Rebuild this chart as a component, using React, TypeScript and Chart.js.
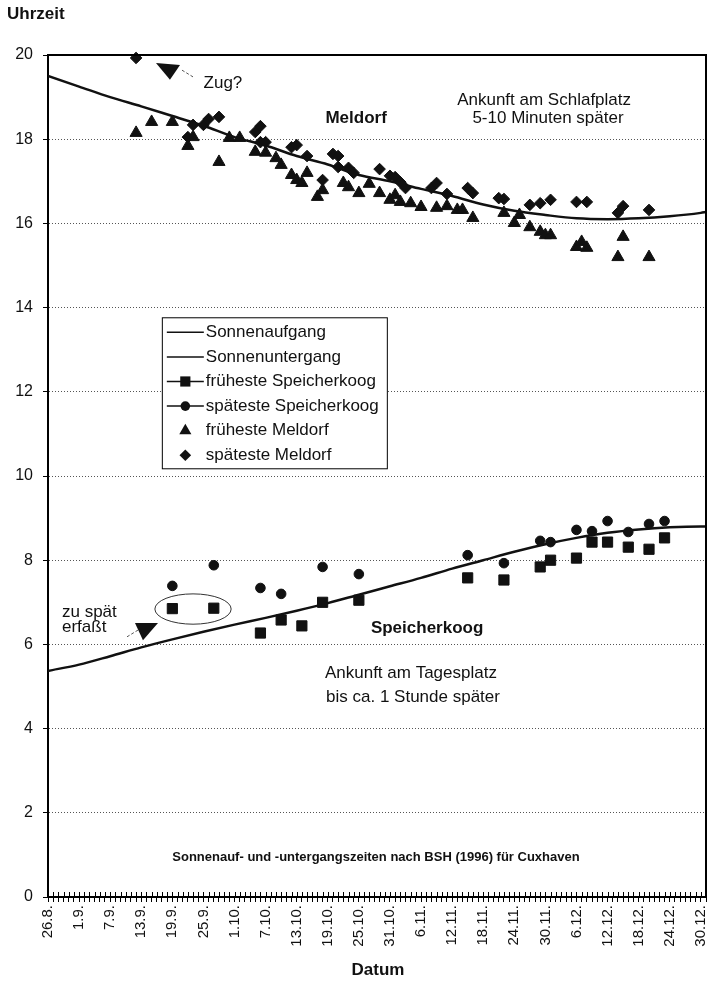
import React, { useEffect, useRef } from 'react';
import { Chart, registerables } from 'chart.js';

Chart.register(...registerables);

// x values are days counted from 26.8. (axis runs to 31.12. = day 127)
const dateLabels = ['26.8.', '1.9.', '7.9.', '13.9.', '19.9.', '25.9.', '1.10.', '7.10.', '13.10.', '19.10.', '25.10.', '31.10.', '6.11.', '12.11.', '18.11.', '24.11.', '30.11.', '6.12.', '12.12.', '18.12.', '24.12.', '30.12.'];
const curveDays = [0, 6, 12, 18, 24, 30, 36, 42, 48, 54, 60, 66, 72, 78, 84, 90, 96, 102, 108, 114, 120, 126, 127];
const sunrise = [5.37, 5.52, 5.72, 5.93, 6.12, 6.3, 6.47, 6.63, 6.8, 6.98, 7.18, 7.38, 7.58, 7.8, 8.0, 8.2, 8.38, 8.53, 8.65, 8.73, 8.78, 8.8, 8.8];
const sunset = [19.5, 19.25, 19.0, 18.78, 18.55, 18.32, 18.05, 17.85, 17.6, 17.4, 17.15, 17.0, 16.82, 16.65, 16.45, 16.3, 16.2, 16.12, 16.1, 16.12, 16.17, 16.25, 16.27];

const earlySpkDays = [24, 32, 41, 45, 49, 53, 60, 81, 88, 95, 97, 102, 105, 108, 112, 116, 119];
const earlySpk = [6.85, 6.86, 6.27, 6.58, 6.44, 7.0, 7.05, 7.58, 7.53, 7.84, 8.0, 8.05, 8.43, 8.43, 8.31, 8.26, 8.53];
const lateSpkDays = [24, 32, 41, 45, 53, 60, 81, 88, 95, 97, 102, 105, 108, 112, 116, 119];
const lateSpk = [7.39, 7.88, 7.34, 7.2, 7.84, 7.67, 8.12, 7.93, 8.46, 8.43, 8.72, 8.69, 8.93, 8.67, 8.86, 8.93];

const earlyMelDays = [17, 20, 24, 27, 28, 33, 35, 37, 40, 42, 44, 45, 47, 48, 49, 50, 52, 53, 57, 58, 60, 62, 64, 66, 67, 68, 70, 72, 75, 77, 79, 80, 82, 88, 90, 91, 93, 95, 96, 97, 102, 103, 104, 110, 111, 116];
const earlyMel = [18.15, 18.41, 18.41, 17.84, 18.05, 17.46, 18.03, 18.03, 17.7, 17.68, 17.55, 17.39, 17.15, 17.03, 16.96, 17.2, 16.63, 16.79, 16.96, 16.86, 16.72, 16.94, 16.72, 16.56, 16.67, 16.51, 16.48, 16.39, 16.37, 16.41, 16.32, 16.32, 16.13, 16.25, 16.01, 16.2, 15.91, 15.8, 15.72, 15.72, 15.44, 15.56, 15.42, 15.2, 15.68, 15.2];
const lateMelDays = [17, 27, 28, 30, 31, 33, 40, 41, 41, 42, 47, 48, 50, 53, 55, 56, 56, 58, 59, 64, 66, 67, 68, 69, 74, 75, 77, 81, 82, 87, 88, 93, 95, 97, 102, 104, 110, 111, 116];
const lateMel = [19.93, 18.05, 18.34, 18.34, 18.48, 18.53, 18.17, 18.31, 17.93, 17.93, 17.81, 17.86, 17.6, 17.03, 17.65, 17.6, 17.34, 17.32, 17.2, 17.29, 17.13, 17.1, 16.98, 16.84, 16.84, 16.96, 16.7, 16.84, 16.72, 16.6, 16.58, 16.44, 16.48, 16.56, 16.51, 16.51, 16.25, 16.41, 16.32];

const FONT = '"Liberation Sans", Arial, Helvetica, sans-serif';
const INK = '#111';

const toXY = (xs: number[], ys: number[]) => xs.map((d, i) => ({ x: d, y: ys[i] }));

type Note = { text: string; d: number; v: number; size: number; bold?: boolean; align?: CanvasTextAlign };
const notes: Note[] = [
  { text: 'Zug?', d: 33.76, v: 19.33, size: 17 },
  { text: 'Meldorf', d: 59.47, v: 18.5, size: 17, bold: true },
  { text: 'Ankunft am Schlafplatz', d: 95.75, v: 18.93, size: 17 },
  { text: '5-10 Minuten später', d: 96.5, v: 18.5, size: 17 },
  { text: 'zu spät', d: 2.7, v: 6.77, size: 17, align: 'left' },
  { text: 'erfaßt', d: 2.7, v: 6.41, size: 17, align: 'left' },
  { text: 'Speicherkoog', d: 73.17, v: 6.39, size: 17, bold: true },
  { text: 'Ankunft am Tagesplatz', d: 70.05, v: 5.32, size: 17 },
  { text: 'bis ca. 1 Stunde später', d: 70.45, v: 4.75, size: 17 },
  { text: 'Sonnenauf- und -untergangszeiten nach BSH (1996) für Cuxhaven', d: 63.3, v: 0.95, size: 13, bold: true },
];

const decor = {
  id: 'decor',
  afterDraw(chart: any) {
    const { ctx, chartArea: ca, scales } = chart;
    const xs = scales.x;
    const ys = scales.y;
    const px = (d: number) => xs.getPixelForValue(d);
    const py = (v: number) => ys.getPixelForValue(v);
    ctx.save();

    // upper half of the daily x ticks (they cross the axis)
    ctx.strokeStyle = '#000';
    ctx.lineWidth = 1;
    ctx.beginPath();
    xs.ticks.forEach((t: any) => {
      const xx = Math.round(px(t.value)) + 0.5;
      ctx.moveTo(xx, ca.bottom);
      ctx.lineTo(xx, ca.bottom - 5);
    });
    ctx.stroke();

    // frame top / right
    ctx.lineWidth = 2;
    ctx.beginPath();
    ctx.moveTo(ca.left, ca.top);
    ctx.lineTo(ca.right, ca.top);
    ctx.lineTo(ca.right, ca.bottom);
    ctx.stroke();

    // text notes
    ctx.fillStyle = INK;
    ctx.textBaseline = 'middle';
    notes.forEach((n) => {
      ctx.font = `${n.bold ? 'bold ' : ''}${n.size}px ${FONT}`;
      ctx.textAlign = n.align || 'center';
      ctx.fillText(n.text, px(n.d), py(n.v));
    });

    // axis captions
    ctx.font = `bold 17px ${FONT}`;
    ctx.textAlign = 'left';
    ctx.fillText('Uhrzeit', 7, 14);
    ctx.textAlign = 'center';
    ctx.fillText('Datum', (ca.left + ca.right) / 2 + 1, 970);

    // arrow triangles with dashed pointers
    const tri = (pts: number[][]) => {
      ctx.beginPath();
      ctx.moveTo(px(pts[0][0]), py(pts[0][1]));
      ctx.lineTo(px(pts[1][0]), py(pts[1][1]));
      ctx.lineTo(px(pts[2][0]), py(pts[2][1]));
      ctx.closePath();
      ctx.fill();
    };
    tri([[20.84, 19.81], [25.48, 19.76], [23.54, 19.41]]);
    tri([[16.79, 6.51], [21.23, 6.51], [18.33, 6.1]]);
    ctx.strokeStyle = '#555';
    ctx.lineWidth = 1;
    ctx.setLineDash([3, 2]);
    ctx.beginPath();
    ctx.moveTo(px(25.86), py(19.64));
    ctx.lineTo(px(27.99), py(19.48));
    ctx.moveTo(px(15.25), py(6.18));
    ctx.lineTo(px(17.37), py(6.34));
    ctx.stroke();
    ctx.setLineDash([]);

    // ellipse around the two late-recorded squares
    ctx.strokeStyle = '#333';
    ctx.lineWidth = 1;
    ctx.beginPath();
    const cx = px(27.99);
    const cy = py(6.84);
    ctx.ellipse(cx, cy, px(27.99 + 7.36) - cx, cy - py(6.84 + 0.36), 0, 0, Math.PI * 2);
    ctx.stroke();

    // legend box
    const lx = px(21.97);
    const ly = py(13.77);
    const lw = 225;
    const lh = 151;
    ctx.fillStyle = '#fff';
    ctx.fillRect(lx, ly, lw, lh);
    ctx.strokeStyle = '#000';
    ctx.lineWidth = 1;
    ctx.strokeRect(lx + 0.5, ly + 0.5, lw, lh);
    const items = chart.data.datasets;
    ctx.font = `17px ${FONT}`;
    ctx.textAlign = 'left';
    ctx.textBaseline = 'middle';
    items.forEach((ds: any, r: number) => {
      const rowY = ly + 15 + r * 24.6;
      const sx0 = lx + 5;
      const sx1 = lx + 42;
      const mx = (sx0 + sx1) / 2;
      ctx.fillStyle = INK;
      ctx.strokeStyle = INK;
      if (ds.legendLine) {
        ctx.lineWidth = 1.5;
        ctx.beginPath();
        ctx.moveTo(sx0, rowY);
        ctx.lineTo(sx1, rowY);
        ctx.stroke();
      }
      if (ds.legendMarker) {
        const style = ds.pointStyle;
        const rad = ds.pointRadius;
        if (style === 'rect') {
          const s = rad * Math.SQRT1_2;
          ctx.fillRect(mx - s, rowY - s, 2 * s, 2 * s);
        } else if (style === 'circle') {
          ctx.beginPath();
          ctx.arc(mx, rowY, rad, 0, Math.PI * 2);
          ctx.fill();
        } else if (style === 'triangle') {
          ctx.beginPath();
          ctx.moveTo(mx, rowY - rad);
          ctx.lineTo(mx + Math.sin((2 * Math.PI) / 3) * rad, rowY + rad / 2);
          ctx.lineTo(mx - Math.sin((2 * Math.PI) / 3) * rad, rowY + rad / 2);
          ctx.closePath();
          ctx.fill();
        } else if (style === 'rectRot') {
          ctx.beginPath();
          ctx.moveTo(mx - rad, rowY);
          ctx.lineTo(mx, rowY - rad);
          ctx.lineTo(mx + rad, rowY);
          ctx.lineTo(mx, rowY + rad);
          ctx.closePath();
          ctx.fill();
        }
      }
      ctx.fillStyle = INK;
      ctx.fillText(ds.label, lx + 44, rowY);
    });

    ctx.restore();
  },
};

export default function App() {
  const ref = useRef<HTMLCanvasElement | null>(null);

  useEffect(() => {
    if (!ref.current) return;
    const lineDs = (label: string, data: number[]) => ({
      type: 'line',
      label,
      data: toXY(curveDays, data),
      borderColor: INK,
      borderWidth: 2.5,
      pointRadius: 0,
      cubicInterpolationMode: 'monotone',
      fill: false,
      order: 1,
      legendLine: true,
      legendMarker: false,
    });
    const ptDs = (label: string, xs: number[], ys: number[], style: string, radius: number, withLine: boolean) => ({
      type: 'scatter',
      label,
      data: toXY(xs, ys),
      pointStyle: style,
      pointRadius: radius,
      pointBackgroundColor: INK,
      pointBorderColor: INK,
      pointBorderWidth: 1,
      showLine: false,
      clip: 12,
      order: 0,
      legendLine: withLine,
      legendMarker: true,
    });

    const chart = new Chart(ref.current, {
      type: 'scatter',
      data: {
        datasets: [
          lineDs('Sonnenaufgang', sunrise),
          lineDs('Sonnenuntergang', sunset),
          ptDs('früheste Speicherkoog', earlySpkDays, earlySpk, 'rect', 7.2, true),
          ptDs('späteste Speicherkoog', lateSpkDays, lateSpk, 'circle', 4.8, true),
          ptDs('früheste Meldorf', earlyMelDays, earlyMel, 'triangle', 7, false),
          ptDs('späteste Meldorf', lateMelDays, lateMel, 'rectRot', 5.8, false),
        ] as any,
      },
      options: {
        animation: false,
        responsive: false,
        devicePixelRatio: 1,
        layout: { autoPadding: false, padding: { top: 55, right: 3, bottom: 0, left: 0 } },
        plugins: {
          legend: { display: false },
          tooltip: { enabled: false },
        },
        scales: {
          x: {
            type: 'linear',
            min: 0,
            max: 127,
            afterFit: (s: any) => {
              s.height = 88;
              s.paddingLeft = 0;
              s.paddingRight = 0;
            },
            ticks: {
              stepSize: 1,
              autoSkip: false,
              maxRotation: 90,
              minRotation: 90,
              padding: 3,
              color: INK,
              font: { family: FONT, size: 15 },
              callback: (v: any) => {
                const n = Math.round(Number(v));
                return n % 6 === 0 && n / 6 < dateLabels.length ? dateLabels[n / 6] : '';
              },
            },
            grid: {
              drawOnChartArea: false,
              drawTicks: true,
              tickLength: 5,
              tickColor: '#000',
              tickWidth: 1,
            },
            border: { display: true, color: '#000', width: 2 },
          },
          y: {
            type: 'linear',
            min: 0,
            max: 20,
            afterFit: (s: any) => {
              s.width = 48;
            },
            ticks: {
              stepSize: 2,
              padding: 10,
              color: INK,
              font: { family: FONT, size: 16 },
            },
            grid: {
              color: '#555',
              lineWidth: 1,
              tickLength: 5,
              tickColor: '#000',
              tickBorderDash: [],
            },
            border: { display: true, color: '#000', width: 2, dash: [1, 2] },
          },
        },
      } as any,
      plugins: [decor],
    });
    return () => chart.destroy();
  }, []);

  return (
    <div style={{ position: 'absolute', left: 0, top: 0, width: 709, height: 985, background: '#fff' }}>
      <canvas ref={ref} width={709} height={985} style={{ width: 709, height: 985, display: 'block' }} />
    </div>
  );
}
